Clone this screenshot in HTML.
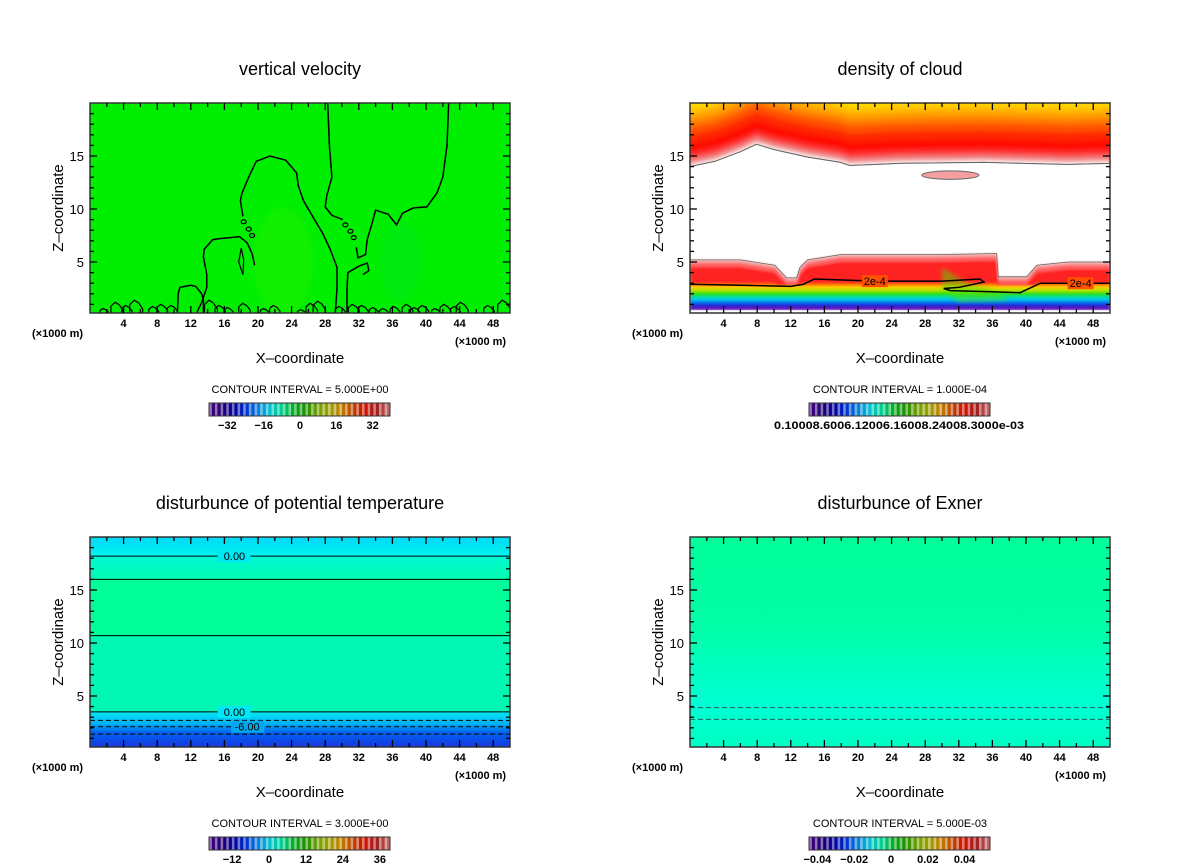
<!DOCTYPE html>
<html><head><meta charset="utf-8"><style>
html,body{margin:0;padding:0;background:#fff;}
svg{display:block;font-family:"Liberation Sans",sans-serif;}
</style></head><body>
<svg id="fig" width="1200" height="868" viewBox="0 0 1200 868">
<defs>
<clipPath id="c1"><rect x="90" y="103" width="420" height="210"/></clipPath>
<clipPath id="c2"><rect x="690" y="103" width="420" height="210"/></clipPath>
<clipPath id="c3"><rect x="90" y="537" width="420" height="210"/></clipPath>
<clipPath id="c4"><rect x="690" y="537" width="420" height="210"/></clipPath>
<filter id="blur" x="-5%" y="-5%" width="110%" height="110%"><feGaussianBlur stdDeviation="2"/></filter>
<filter id="blur1" x="-5%" y="-5%" width="110%" height="110%"><feGaussianBlur stdDeviation="1"/></filter>
<linearGradient id="g4" x1="0" y1="537" x2="0" y2="747" gradientUnits="userSpaceOnUse">
<stop offset="0" stop-color="#00ff9a"/><stop offset="0.45" stop-color="#00ffa8"/><stop offset="0.62" stop-color="#00ffc0"/><stop offset="0.8" stop-color="#00ffd4"/><stop offset="1" stop-color="#00ffc4"/></linearGradient>
<linearGradient id="g3top" x1="0" y1="537" x2="0" y2="590" gradientUnits="userSpaceOnUse">
<stop offset="0" stop-color="#00d8f8"/><stop offset="0.35" stop-color="#00f4ee"/><stop offset="0.4" stop-color="#00f8d0"/><stop offset="1" stop-color="#00ffa0"/></linearGradient>
<linearGradient id="g3low" x1="0" y1="712" x2="0" y2="747" gradientUnits="userSpaceOnUse">
<stop offset="0" stop-color="#00e8f4"/><stop offset="0.3" stop-color="#00b8f4"/><stop offset="0.6" stop-color="#0060f0"/><stop offset="1" stop-color="#1838e0"/></linearGradient>
</defs>
</svg>
<script>
const NS="http://www.w3.org/2000/svg";
const svg=document.getElementById('fig');
const X_TICK_LABELS=[4,8,12,16,20,24,28,32,36,40,44,48];
const Y_TICK_LABELS=[5,10,15];
const CB1_LABELS=[-32,-16,0,16,32];
const CB2_LABELS=["0.10008.6006.12006.16008.24008.3000e-03"];
const CB3_LABELS=[-12,0,12,24,36];
const CB4_LABELS=["-0.04","-0.02","0","0.02","0.04"];
// panel 1 contours (x km, z km)
const W_DOME=[[29.2,0.2],[29.4,2.5],[29.4,4.5],[28.6,6.2],[27.7,7.7],[26.5,9.3],[25.4,10.8],[24.8,12.2],[24.6,13.4],[23.3,14.6],[21.4,15.0],[19.8,14.5],[19.0,13.2],[18.1,11.5],[17.9,10.8],[18.2,9.3]];
const W_DOME_LOW=[[19.6,4.7],[19.3,5.8],[18.7,6.8],[17.8,7.4],[16.7,7.3],[15.3,7.2],[14.6,7.1],[13.6,6.2],[13.5,5.5],[13.9,3.8],[13.9,2.6],[13.3,1.2],[12.7,0.2]];
const W_RIGHT=[[28.3,20],[28.5,16],[28.8,13],[28.2,11.3],[28.0,10.2],[28.8,9.4],[30.1,9.0]];
const W_RIGHT2=[[31.7,6.4],[31.9,5.4],[32.8,5.7],[33.0,7.1],[33.6,8.7],[34.0,9.9],[35.5,9.5],[36.5,8.5],[37.2,9.6],[38.5,10.1],[40.1,10.2],[41.3,11.5],[42.0,13.0],[42.5,16],[42.7,20]];
const W_RIGHT_LOW=[[30.6,0.2],[30.6,2.5],[30.7,4.0],[32.0,4.6],[33.0,4.9],[33.2,4.2],[32.5,3.8]];
const W_LEFT_BUMP=[[10.4,0.2],[10.5,2.0],[10.7,2.6],[12.0,2.8],[12.6,2.7],[13.3,2.0],[13.5,1.4],[13.5,0.2]];
const W_GROUND_X=[1.7,3.2,4.4,5.5,7.6,8.6,9.8,14.4,15.5,16.5,18.4,20.8,22.0,25.2,26.4,27.3,29.8,31.4,32.5,33.8,35.0,36.3,37.8,38.7,39.7,41.2,42.3,43.5,44.3,47.5,49.3];
const W_GROUND_H=[0.6,1.2,0.9,1.4,0.8,1.0,0.9,1.4,0.9,0.7,1.1,0.6,0.9,0.5,1.1,1.3,0.8,1.0,0.9,0.7,0.6,0.8,1.0,0.7,0.9,0.6,1.0,0.8,1.2,0.9,1.4];
// panel 2 cloud
const Q_TOP_EDGE=[[0,14.0],[3,14.5],[6,15.4],[7.9,16.1],[10,15.6],[14,14.9],[17.9,14.4],[19,14.1],[25,14.3],[35,14.4],[45,14.2],[50,14.3]];
const Q_LOW_EDGE=[[0,5.2],[6,5.2],[10.1,4.7],[11.5,3.5],[12.7,3.5],[13.1,4.5],[14,5.2],[17.9,5.7],[29.2,5.7],[36.5,5.8],[36.7,3.6],[40.1,3.6],[41.3,4.7],[45,5.0],[50,5.0]];
const Q_CONTOUR=[[0,2.9],[6,2.8],[12,2.7],[13.5,2.9],[14.8,3.4],[22,3.2],[30,3.2],[34.5,3.4],[35,3.1],[32,2.6],[30.2,2.5],[31,2.3],[36,2.2],[39.3,2.1],[41.7,3.0],[50,3.0]];
const Q_BLOB=[31.0,13.2,3.4,0.4];
// panel 3 theta levels
const T_SOLID=[18.2,16.0,10.7,3.5];
const T_DASH=[2.7,2.1,1.4];
// panel 4 exner dashed levels
const P_DASH=[3.9,2.8];

function el(tag,attrs,parent){const e=document.createElementNS(NS,tag);for(const k in attrs)e.setAttribute(k,attrs[k]);(parent||svg).appendChild(e);return e;}
function txt(s,x,y,size,anchor,parent,extra){const t=el('text',Object.assign({x:x,y:y,'font-size':size,'text-anchor':anchor||'middle',fill:'#000'},extra||{}),parent);t.textContent=s;return t;}
const P=[{x0:90,y0:0},{x0:690,y0:0},{x0:90,y0:434},{x0:690,y0:434}];
function sx(p,x){return p.x0+x*8.4;}
function sy(p,z){return p.y0+315-z*10.6;}
function pathOf(p,pts){return pts.map((q,i)=>(i?'L':'M')+sx(p,q[0]).toFixed(1)+','+sy(p,q[1]).toFixed(1)).join(' ');}

// ---------- panel 1 ----------
(function(){const p=P[0];const g=el('g',{'clip-path':'url(#c1)'});

el('rect',{x:90,y:103,width:420,height:210,fill:'#00ee00'},g);
el('ellipse',{cx:sx(p,23),cy:sy(p,5),rx:30,ry:55,fill:'#20f000',opacity:0.5,filter:'url(#blur)'},g);
el('ellipse',{cx:sx(p,37),cy:sy(p,5),rx:22,ry:40,fill:'#00e828',opacity:0.4,filter:'url(#blur)'},g);
const st={fill:'none',stroke:'#000','stroke-width':1.5};
[W_DOME,W_DOME_LOW,W_RIGHT,W_RIGHT2,W_RIGHT_LOW,W_LEFT_BUMP].forEach(c=>{const e=el('path',Object.assign({d:pathOf(p,c)},st),g);});
[[18.3,8.8],[18.9,8.1],[19.3,7.5],[30.4,8.5],[31.0,7.9],[31.4,7.3]].forEach(c=>el('ellipse',{cx:sx(p,c[0]),cy:sy(p,c[1]),rx:2.5,ry:2,fill:'none',stroke:'#000','stroke-width':1.2},g));
el('path',{d:pathOf(p,[[18.0,6.3],[17.7,5.0],[18.2,3.8],[18.3,5.2],[18.0,6.3]]),fill:'none',stroke:'#000','stroke-width':1.2},g);
W_GROUND_X.forEach((x,i)=>{const h=W_GROUND_H[i];const w=0.35+h*0.3;
const e=el('path',{d:pathOf(p,[[x-w,0],[x-w,h*0.7],[x-w*0.3,h],[x+w*0.4,h*0.8],[x+w,h*0.4],[x+w,0]]),fill:'none',stroke:'#000','stroke-width':1.2},g);
});
})();

// ---------- panel 2 ----------
(function(){const p=P[1];const g=el('g',{'clip-path':'url(#c2)'});

el('rect',{x:690,y:103,width:420,height:210,fill:'#fff'},g);
const tg=el('g',{filter:'url(#blur)'},g);
const topLayers=[[0.4,'#f07878'],[0.8,'#ff3030'],[1.3,'#ff0a00'],[2.2,'#ff2800'],[3.0,'#ff5000'],[3.7,'#ff7800'],[4.3,'#ffa000'],[4.9,'#ffc000'],[5.4,'#ffd800'],[5.9,'#ffe400']];
const fp=Q_TOP_EDGE.map(q=>[q[0],q[1]+0.2]);fp.unshift([-3,14]);fp.push([53,14.3],[53,23],[-3,23]);
el('path',{d:pathOf(p,fp)+'Z',fill:'#f4a0a0'},tg);
topLayers.forEach(L=>{const pts=Q_TOP_EDGE.map(q=>[q[0],q[1]+L[0]]);pts.unshift([-3,Q_TOP_EDGE[0][1]+L[0]]);pts.push([53,Q_TOP_EDGE[Q_TOP_EDGE.length-1][1]+L[0]],[53,23],[-3,23]);el('path',{d:pathOf(p,pts)+'Z',fill:L[1]},tg);});
const ep=Q_TOP_EDGE.slice();ep.push([50,23],[0,23]);
el('path',{d:pathOf(p,ep)+'Z',fill:'none',stroke:'#666','stroke-width':1},g);
el('path',{d:'M690,'+sy(p,14)+' '+pathOf(p,Q_TOP_EDGE).slice(1)+' L1110,313 L690,313Z',fill:'#fff'},g);
el('path',{d:pathOf(p,Q_TOP_EDGE),fill:'none',stroke:'#666','stroke-width':1},g);
const b=el('ellipse',{cx:sx(p,Q_BLOB[0]),cy:sy(p,Q_BLOB[1]),rx:Q_BLOB[2]*8.4,ry:Q_BLOB[3]*10.6,fill:'#f4a0a0',stroke:'#666','stroke-width':1},g);

const lg=el('g',{filter:'url(#blur1)'},g);
const lowLayers=[[0,99,'#f4a0a0'],[0.3,99,'#ff6060'],[0.7,99,'#ff2020'],[1.4,3.0,'#ff7000'],[0,2.75,'#ffd000'],[0,2.5,'#b8e000'],[0,2.2,'#30e000'],[0,1.9,'#00e070'],[0,1.65,'#00d0e0'],[0,1.4,'#0090f0'],[0,1.15,'#1040e8'],[0,0.9,'#3010c0'],[0,0.7,'#7020c0']];
lowLayers.forEach(L=>{const pts=Q_LOW_EDGE.map(q=>[q[0],Math.min(q[1]-L[0],L[1])]);pts.push([50,0.45],[0,0.45]);el('path',{d:pathOf(p,pts)+'Z',fill:L[2]},lg);});
el('rect',{x:690,y:sy(p,0.45),width:420,height:20,fill:'#fff'},g);
el('path',{d:pathOf(p,[[30,4.5],[33,3.0],[36,2.4],[38,1.4],[32,1.2],[30,2.4]])+'Z',fill:'#50e000',opacity:0.5,filter:'url(#blur)'},g);
el('path',{d:pathOf(p,Q_LOW_EDGE),fill:'none',stroke:'#666','stroke-width':0.8},g);
const c=el('path',{d:pathOf(p,Q_CONTOUR),fill:'none',stroke:'#000','stroke-width':1.5},g);

[[22,3.2],[46.5,3.0]].forEach(q=>{el('rect',{x:sx(p,q[0])-13,y:sy(p,q[1])-6,width:26,height:12,fill:'#ff5000'},g);txt('2e-4',sx(p,q[0]),sy(p,q[1])+4,11,'middle',g);});
})();

// ---------- panel 3 ----------
(function(){const p=P[2];const g=el('g',{'clip-path':'url(#c3)'});

el('rect',{x:90,y:537,width:420,height:210,fill:'#00f8b4'},g);
el('rect',{x:90,y:537,width:420,height:sy(p,16)-537,fill:'url(#g3top)'},g);
el('rect',{x:90,y:sy(p,16),width:420,height:sy(p,10.7)-sy(p,16),fill:'#00ff98'},g);
el('rect',{x:90,y:sy(p,3.5),width:420,height:40,fill:'url(#g3low)'},g);
T_SOLID.forEach(z=>{const e=el('line',{x1:90,x2:510,y1:sy(p,z),y2:sy(p,z),stroke:'#000','stroke-width':1},g);});
T_DASH.forEach(z=>{const e=el('line',{x1:90,x2:510,y1:sy(p,z),y2:sy(p,z),stroke:'#000','stroke-width':1,'stroke-dasharray':'5,3'},g);});
el('rect',{x:sx(p,15.2),y:sy(p,18.2)-6,width:33,height:12,fill:'#00e8f0'},g);txt('0.00',sx(p,17.2),sy(p,18.2)+4,11,'middle',g);
el('rect',{x:sx(p,15.2),y:sy(p,3.5)-6,width:33,height:12,fill:'#00e8f4'},g);txt('0.00',sx(p,17.2),sy(p,3.5)+4,11,'middle',g);
el('rect',{x:sx(p,16.8),y:sy(p,2.1)-6,width:33,height:12,fill:'#00a8f0'},g);txt('-6.00',sx(p,18.7),sy(p,2.1)+4,11,'middle',g);
})();

// ---------- panel 4 ----------
(function(){const p=P[3];const g=el('g',{'clip-path':'url(#c4)'});

el('rect',{x:690,y:537,width:420,height:210,fill:'url(#g4)'},g);
P_DASH.forEach(z=>{const e=el('line',{x1:690,x2:1110,y1:sy(p,z),y2:sy(p,z),stroke:'#206060','stroke-width':1,'stroke-dasharray':'5,3'},g);});
})();

// ---------- axes, titles ----------
const TITLES=["vertical velocity","density of cloud","disturbunce of potential temperature","disturbunce of Exner"];
const INTERVALS=["CONTOUR INTERVAL = 5.000E+00","CONTOUR INTERVAL = 1.000E-04","CONTOUR INTERVAL = 3.000E+00","CONTOUR INTERVAL = 5.000E-03"];
const CMAP=['#400080','#200070','#0000a0','#0030d0','#0080e0','#00c0d0','#00d090','#00b020','#209000','#70a000','#a0a000','#c08000','#c04000','#d01000','#a02020','#c06060'];
function cmap(t){const n=CMAP.length-1;const i=Math.min(n-1,Math.floor(t*n));const f=t*n-i;
 const a=CMAP[i],b=CMAP[i+1];const h=s=>[1,3,5].map(k=>parseInt(s.substr(k,2),16));const A=h(a),B=h(b);
 return 'rgb('+A.map((v,k)=>Math.round(v+(B[k]-v)*f)).join(',')+')';}
P.forEach((p,i)=>{
 const top=p.y0+103,bot=p.y0+313,L=p.x0,R=p.x0+420,cx=p.x0+210;
 const ax=el('g',{});
 el('rect',{x:L,y:top,width:420,height:210,fill:'none',stroke:'#333','stroke-width':1.5},ax);
 for(let x=2;x<50;x+=2){const len=(x%4===0)?7:4;const X=sx(p,x);
  el('line',{x1:X,x2:X,y1:bot,y2:bot-len,stroke:'#000','stroke-width':1.3},ax);
  el('line',{x1:X,x2:X,y1:top,y2:top+len,stroke:'#000','stroke-width':1.3},ax);}
 for(let z=1;z<20;z++){const len=(z%5===0)?7:4;const Y=sy(p,z);
  el('line',{x1:L,x2:L+len,y1:Y,y2:Y,stroke:'#000','stroke-width':1.3},ax);
  el('line',{x1:R,x2:R-len,y1:Y,y2:Y,stroke:'#000','stroke-width':1.3},ax);}
 X_TICK_LABELS.forEach(v=>{const t=txt(String(v),sx(p,v),bot+14,11,'middle',ax,{'font-weight':'bold'});});
 Y_TICK_LABELS.forEach(v=>{const t=txt(String(v),L-6,sy(p,v)+5,13,'end',ax);});
 txt('(×1000 m)',L-58,bot+24,11,'start',ax,{'font-weight':'bold'});
 txt('(×1000 m)',R-55,bot+32,11,'start',ax,{'font-weight':'bold'});
 const xt=txt('X\u2013coordinate',cx,bot+50,15,'middle',ax);
 const yt=txt('Z\u2013coordinate',0,0,15,'middle',ax,{transform:'translate('+(L-27)+','+(p.y0+208)+') rotate(-90)'});
 const tt=txt(TITLES[i],cx,p.y0+75,18,'middle',ax);
 const it=txt(INTERVALS[i],cx,bot+80,11,'middle',ax);
 const cb=el('g',{});
 const cbx=p.x0+119,cby=p.y0+403,cbw=181,cbh=13,N=64;
 for(let k=0;k<N;k++){const c=cmap(k/(N-1));el('rect',{x:cbx+k*cbw/N,y:cby,width:cbw/N+0.3,height:cbh,fill:c,opacity:(k%2?1:0.55)},cb);}
 el('rect',{x:cbx,y:cby,width:cbw,height:cbh,fill:'none',stroke:'#333','stroke-width':1},cb);
 const ly=cby+26;
 if(i===0){CB1_LABELS.forEach(v=>txt(String(v).replace('-','\u2212'),cbx+91+v*2.27,ly,11,'middle',cb,{'font-weight':'bold'}));}
 if(i===1){txt(CB2_LABELS[0],cbx+90,ly,11,'middle',cb,{'font-weight':'bold',textLength:250,lengthAdjust:'spacingAndGlyphs'});}
 if(i===2){CB3_LABELS.forEach(v=>txt(String(v).replace('-','\u2212'),cbx+60+v*3.08,ly,11,'middle',cb,{'font-weight':'bold'}));}
 if(i===3){CB4_LABELS.forEach(v=>txt(v.replace('-','\u2212'),cbx+82+parseFloat(v)*1840,ly,11,'middle',cb,{'font-weight':'bold'}));}
});
</script>
</body></html>
